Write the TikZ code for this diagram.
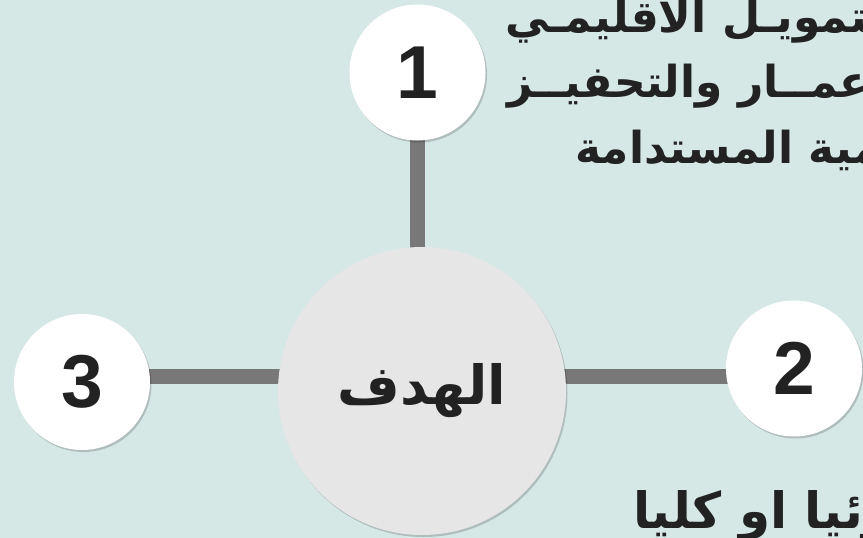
\documentclass[tikz,border=0pt]{standalone}
\usepackage{fontspec}
\setmainfont{Liberation Sans}
\newfontfamily\arabicfont[Script=Arabic]{DejaVu Sans}
\TeXXeTstate=1
\usetikzlibrary{shadows}
\definecolor{bgc}{RGB}{214,232,230}
\definecolor{hubc}{RGB}{230,230,230}
\definecolor{linec}{RGB}{120,120,120}
\definecolor{txtc}{RGB}{34,34,34}
\pgfdeclarelayer{bglayer}
\pgfdeclarelayer{linelayer}
\pgfsetlayers{bglayer,linelayer,main}
\tikzset{
  shad/.style={drop shadow={shadow xshift=1.5pt,shadow yshift=-2pt,opacity=0.18,fill=black}},
  hub/.style={circle,fill=hubc,minimum size=288pt,inner sep=0pt,shad,text=txtc,
     font=\arabicfont\bfseries\fontsize{54}{60}\selectfont},
  num/.style={circle,fill=white,minimum size=136pt,inner sep=0pt,shad,text=txtc,
     font=\bfseries\fontsize{75}{80}\selectfont},
  conn/.style={draw=linec,line width=15pt},
  artxt/.style={anchor=base west,text=txtc,inner sep=0pt,
     font=\arabicfont\bfseries\fontsize{44}{50}\selectfont},
}
\begin{document}
\begin{tikzpicture}[x=1pt,y=-1pt]
\useasboundingbox (0,0) rectangle (863,538);
\clip (0,0) rectangle (863,538);
\begin{pgfonlayer}{bglayer}
\fill[bgc] (0,0) rectangle (863,538);
\end{pgfonlayer}
\node[hub] (c) at (422,391) {\beginR الهدف\endR};
\node[num] (n1) at (417.5,72.5) {1};
\node[num] (n2) at (794,368.5) {2};
\node[num] (n3) at (82,382) {3};
\coordinate (hy) at (0,376);
\begin{pgfonlayer}{linelayer}
\draw[conn] (n1.center) -- (n1.center |- c.center);
\draw[conn] (n3.center |- hy) -- (c.center |- hy);
\draw[conn] (n2.center |- hy) -- (c.center |- hy);
\end{pgfonlayer}
\node[artxt] (t1) at (505,32) {\beginR التمويـل الاقليمـي\endR};
\node[artxt] (t2) at (507,97) {\beginR الاعمــار والتحفيــز\endR};
\node[artxt] (t3) at (575,163) {\beginR التنمية المستدامة\endR};
\node[artxt,font=\arabicfont\bfseries\fontsize{50}{56}\selectfont] (t4) at (633,528) {\beginR جزئيا او كليا\endR};
\end{tikzpicture}
\end{document}
